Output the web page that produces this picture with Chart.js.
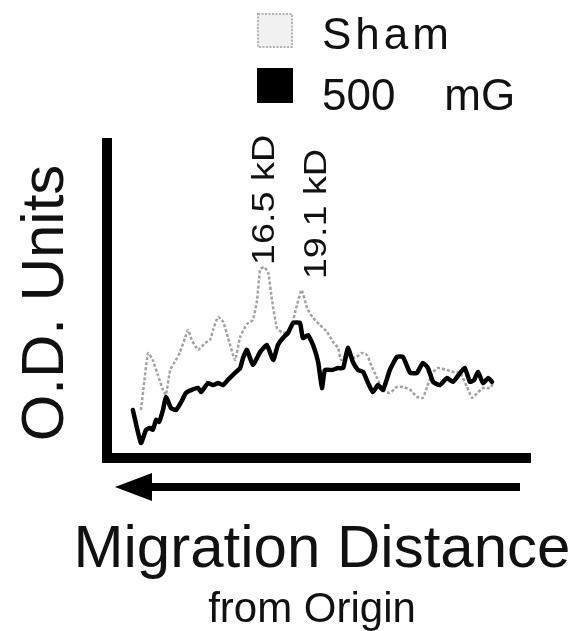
<!DOCTYPE html>
<html>
<head>
<meta charset="utf-8">
<script src="https://cdn.jsdelivr.net/npm/chart.js"></script>
<style>
  html, body { margin: 0; padding: 0; background: #fff; }
  canvas { display: block; }
</style>
</head>
<body>
<canvas id="trace" width="582" height="631"></canvas>
<script>
// densitometer scans, x = migration distance, y = O.D. (arbitrary units, 0-100)
const shamX = [8.0, 8.7, 9.7, 10.8, 12.0, 13.2, 13.9, 14.9, 16.0, 17.2, 18.4, 19.1, 20.0, 21.5, 23.1, 24.3,
  25.0, 26.2, 27.4, 28.5, 30.2, 31.4, 33.0, 34.4, 35.4, 36.1, 37.0, 38.0, 38.9, 40.1, 41.5, 43.2, 44.8,
  45.9, 47.2, 48.6, 50.2, 51.9, 53.3, 54.5, 55.2, 56.6, 58.5, 60.1, 61.3, 62.5, 63.7, 65.1, 66.7, 68.4,
  69.8, 71.5, 73.1, 74.5, 75.5, 76.7, 78.1, 80.2, 81.6, 83.3, 84.9, 86.1, 87.3, 88.7, 90.3, 91.0];
const shamY = [15.0, 22.8, 32.8, 30.6, 25.9, 21.3, 19.7, 27.5, 30.0, 33.1, 37.5, 40.0, 36.9, 33.8, 35.9, 36.9,
  40.0, 44.1, 42.5, 37.8, 30.6, 37.8, 41.9, 43.1, 49.4, 58.8, 59.7, 58.1, 49.4, 40.6, 39.1, 40.0, 47.8,
  52.5, 46.9, 43.8, 41.6, 39.4, 36.3, 34.4, 30.6, 32.2, 31.3, 32.8, 32.2, 28.4, 25.0, 21.3, 20.3, 22.2,
  22.2, 21.3, 19.1, 18.8, 22.2, 26.6, 28.1, 27.5, 26.9, 26.6, 22.2, 18.8, 20.3, 21.9, 21.9, 23.1];

const fieldX = [6.1, 8.0, 9.2, 10.1, 10.8, 11.6, 12.3, 13.2, 13.9, 15.1, 16.3, 17.5, 18.6, 20.0, 21.5, 22.2,
  23.8, 25.0, 26.2, 27.4, 28.5, 30.2, 31.4, 32.1, 33.0, 34.4, 36.1, 37.7, 39.2, 40.3, 41.5, 42.7, 43.9,
  45.5, 46.2, 47.4, 48.6, 49.8, 50.7, 51.4, 53.1, 54.5, 55.7, 56.8, 58.0, 59.2, 60.4, 61.6, 62.7, 63.9,
  65.1, 66.7, 68.4, 69.8, 71.5, 73.1, 74.5, 75.7, 76.9, 78.5, 80.2, 81.6, 83.3, 84.4, 85.6, 86.6, 87.5,
  88.7, 89.9, 90.8];
const fieldY = [15.0, 4.7, 8.8, 9.4, 8.8, 11.9, 11.3, 15.0, 19.1, 15.6, 15.0, 17.5, 20.3, 21.3, 21.9, 20.6,
  23.4, 22.8, 23.4, 22.8, 24.4, 26.6, 28.1, 31.3, 33.8, 29.1, 33.1, 35.3, 30.6, 35.3, 37.5, 39.1, 42.2,
  42.2, 37.5, 38.4, 35.3, 30.0, 21.9, 27.5, 27.5, 28.1, 28.1, 34.4, 30.0, 27.5, 26.9, 23.4, 20.6, 22.8,
  21.3, 27.5, 31.6, 31.6, 26.6, 26.6, 29.7, 28.1, 23.8, 22.8, 25.0, 23.8, 26.6, 28.1, 23.8, 24.4, 26.9,
  23.4, 25.0, 23.8];

const seriesLabels = ['Sham', '500    mG'];
const peakLabels = ['16.5 kD', '19.1 kD'];
const peakX = [37.0, 45.9];
const peakY = [59.7, 52.5];

const FONT = "'Liberation Sans', Arial, Helvetica, sans-serif";

const toPoints = (xs, ys) => xs.map((x, i) => ({ x: x, y: ys[i] }));

// axes, arrow, titles, peak labels and legend drawn over the chart
const decor = {
  id: 'decor',
  afterDraw(chart) {
    const ctx = chart.ctx;
    const a = chart.chartArea;
    const sx = chart.scales.x, sy = chart.scales.y;
    ctx.save();
    ctx.fillStyle = '#000';

    // thick L-shaped axes
    ctx.fillRect(a.left - 5, a.top, 10, a.bottom - a.top + 5);
    ctx.fillRect(a.left - 5, a.bottom - 5, a.right - a.left + 5, 10);

    // arrow pointing back to the origin
    const ay = a.bottom + 29;
    ctx.fillRect(a.left + 42, ay - 4, a.right - 11 - (a.left + 42), 8);
    ctx.beginPath();
    ctx.moveTo(a.left + 8, ay);
    ctx.lineTo(a.left + 45, ay - 14);
    ctx.lineTo(a.left + 45, ay + 14);
    ctx.closePath();
    ctx.fill();

    // axis titles
    ctx.fillStyle = '#111';
    ctx.textAlign = 'center';
    ctx.textBaseline = 'alphabetic';
    ctx.font = '60px ' + FONT;
    ctx.save();
    ctx.translate(63, 303);
    ctx.rotate(-Math.PI / 2);
    ctx.fillText('O.D. Units', 0, 0);
    ctx.restore();
    ctx.fillText('Migration Distance', 322, 567);
    ctx.font = '42px ' + FONT;
    ctx.fillText('from Origin', 312, 622);

    // peak labels, vertical and a little stretched like the scan
    const offs = [[10, -67], [24, -76]];
    ctx.font = '31px ' + FONT;
    peakLabels.forEach((t, i) => {
      const px = sx.getPixelForValue(peakX[i]) + offs[i][0];
      const py = sy.getPixelForValue(peakY[i]) + offs[i][1];
      ctx.save();
      ctx.translate(px, py);
      ctx.rotate(-Math.PI / 2);
      ctx.scale(1.22, 1);
      ctx.fillText(t, 0, 0);
      ctx.restore();
    });

    // legend
    ctx.textAlign = 'left';
    ctx.font = '44px ' + FONT;
    ctx.fillStyle = '#f1f1f1';
    ctx.fillRect(257, 13, 36, 35);
    ctx.strokeStyle = '#b4b4b4';
    ctx.lineWidth = 2;
    ctx.setLineDash([2, 1.5]);
    ctx.strokeRect(258, 14, 34, 33);
    ctx.setLineDash([]);
    ctx.fillStyle = '#000';
    ctx.fillRect(257, 68, 36, 35);
    ctx.fillStyle = '#111';
    if ('letterSpacing' in ctx) ctx.letterSpacing = '4px';
    ctx.fillText(seriesLabels[0], 322, 49);
    if ('letterSpacing' in ctx) ctx.letterSpacing = '0px';
    ctx.fillText(seriesLabels[1], 322, 110);
    ctx.restore();
  }
};

new Chart(document.getElementById('trace'), {
  type: 'line',
  data: {
    datasets: [
      {
        label: seriesLabels[0],
        data: toPoints(shamX, shamY),
        borderColor: '#a2a2a2',
        borderWidth: 2.5,
        borderDash: [3, 2],
        pointRadius: 0,
        tension: 0.15,
        order: 1
      },
      {
        label: seriesLabels[1],
        data: toPoints(fieldX, fieldY),
        borderColor: '#000',
        borderWidth: 4.5,
        borderJoinStyle: 'round',
        borderCapStyle: 'round',
        pointRadius: 0,
        tension: 0.15,
        order: 0
      }
    ]
  },
  options: {
    responsive: false,
    animation: false,
    events: [],
    layout: { padding: { left: 107, right: 51, top: 138, bottom: 173 } },
    scales: {
      x: { type: 'linear', display: false, min: 0, max: 100 },
      y: { display: false, min: 0, max: 100 }
    },
    plugins: {
      legend: { display: false },
      tooltip: { enabled: false }
    }
  },
  plugins: [decor]
});
</script>
</body>
</html>
